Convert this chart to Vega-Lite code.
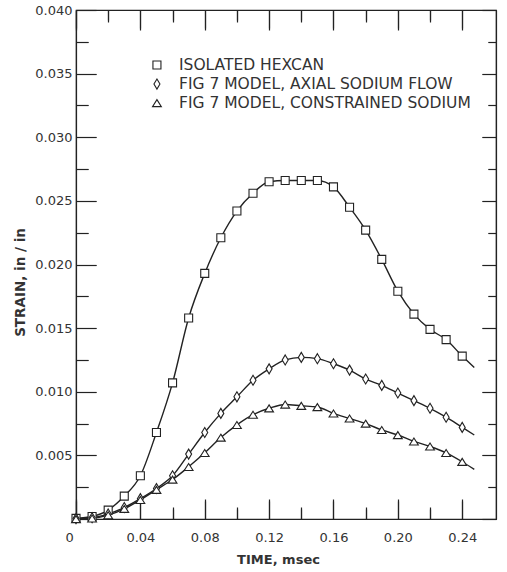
{
  "$schema": "https://vega.github.io/schema/vega-lite/v6.json",
  "width": 420,
  "height": 509,
  "autosize": {"type": "none"},
  "padding": {"left": 76, "top": 10, "right": 11, "bottom": 53},
  "background": "white",
  "config": {
    "view": {"stroke": "#222", "strokeWidth": 1.2}
  },
  "data": {
    "values": [
      {"series": "ISOLATED HEXCAN", "t": 0.0, "s": 0.00005, "m": 1},
      {"series": "ISOLATED HEXCAN", "t": 0.01, "s": 0.0002, "m": 1},
      {"series": "ISOLATED HEXCAN", "t": 0.02, "s": 0.0007, "m": 1},
      {"series": "ISOLATED HEXCAN", "t": 0.03, "s": 0.0018, "m": 1},
      {"series": "ISOLATED HEXCAN", "t": 0.04, "s": 0.0034, "m": 1},
      {"series": "ISOLATED HEXCAN", "t": 0.05, "s": 0.0068, "m": 1},
      {"series": "ISOLATED HEXCAN", "t": 0.06, "s": 0.0107, "m": 1},
      {"series": "ISOLATED HEXCAN", "t": 0.07, "s": 0.0158, "m": 1},
      {"series": "ISOLATED HEXCAN", "t": 0.08, "s": 0.0193, "m": 1},
      {"series": "ISOLATED HEXCAN", "t": 0.09, "s": 0.0221, "m": 1},
      {"series": "ISOLATED HEXCAN", "t": 0.10, "s": 0.0242, "m": 1},
      {"series": "ISOLATED HEXCAN", "t": 0.11, "s": 0.0256, "m": 1},
      {"series": "ISOLATED HEXCAN", "t": 0.12, "s": 0.0265, "m": 1},
      {"series": "ISOLATED HEXCAN", "t": 0.13, "s": 0.0266, "m": 1},
      {"series": "ISOLATED HEXCAN", "t": 0.14, "s": 0.0266, "m": 1},
      {"series": "ISOLATED HEXCAN", "t": 0.15, "s": 0.0266, "m": 1},
      {"series": "ISOLATED HEXCAN", "t": 0.16, "s": 0.0261, "m": 1},
      {"series": "ISOLATED HEXCAN", "t": 0.17, "s": 0.0245, "m": 1},
      {"series": "ISOLATED HEXCAN", "t": 0.18, "s": 0.0227, "m": 1},
      {"series": "ISOLATED HEXCAN", "t": 0.19, "s": 0.0204, "m": 1},
      {"series": "ISOLATED HEXCAN", "t": 0.20, "s": 0.0179, "m": 1},
      {"series": "ISOLATED HEXCAN", "t": 0.21, "s": 0.0161, "m": 1},
      {"series": "ISOLATED HEXCAN", "t": 0.22, "s": 0.0149, "m": 1},
      {"series": "ISOLATED HEXCAN", "t": 0.23, "s": 0.0141, "m": 1},
      {"series": "ISOLATED HEXCAN", "t": 0.24, "s": 0.0128, "m": 1},
      {"series": "ISOLATED HEXCAN", "t": 0.2475, "s": 0.0119, "m": 0},
      {"series": "FIG 7 MODEL, AXIAL SODIUM FLOW", "t": 0.0, "s": 0.00003, "m": 1},
      {"series": "FIG 7 MODEL, AXIAL SODIUM FLOW", "t": 0.01, "s": 0.0001, "m": 1},
      {"series": "FIG 7 MODEL, AXIAL SODIUM FLOW", "t": 0.02, "s": 0.0004, "m": 1},
      {"series": "FIG 7 MODEL, AXIAL SODIUM FLOW", "t": 0.03, "s": 0.0009, "m": 1},
      {"series": "FIG 7 MODEL, AXIAL SODIUM FLOW", "t": 0.04, "s": 0.0016, "m": 1},
      {"series": "FIG 7 MODEL, AXIAL SODIUM FLOW", "t": 0.05, "s": 0.0024, "m": 1},
      {"series": "FIG 7 MODEL, AXIAL SODIUM FLOW", "t": 0.06, "s": 0.0034, "m": 1},
      {"series": "FIG 7 MODEL, AXIAL SODIUM FLOW", "t": 0.07, "s": 0.0051, "m": 1},
      {"series": "FIG 7 MODEL, AXIAL SODIUM FLOW", "t": 0.08, "s": 0.0068, "m": 1},
      {"series": "FIG 7 MODEL, AXIAL SODIUM FLOW", "t": 0.09, "s": 0.0083, "m": 1},
      {"series": "FIG 7 MODEL, AXIAL SODIUM FLOW", "t": 0.10, "s": 0.0096, "m": 1},
      {"series": "FIG 7 MODEL, AXIAL SODIUM FLOW", "t": 0.11, "s": 0.0109, "m": 1},
      {"series": "FIG 7 MODEL, AXIAL SODIUM FLOW", "t": 0.12, "s": 0.0118, "m": 1},
      {"series": "FIG 7 MODEL, AXIAL SODIUM FLOW", "t": 0.13, "s": 0.0125, "m": 1},
      {"series": "FIG 7 MODEL, AXIAL SODIUM FLOW", "t": 0.14, "s": 0.0127, "m": 1},
      {"series": "FIG 7 MODEL, AXIAL SODIUM FLOW", "t": 0.15, "s": 0.0126, "m": 1},
      {"series": "FIG 7 MODEL, AXIAL SODIUM FLOW", "t": 0.16, "s": 0.0122, "m": 1},
      {"series": "FIG 7 MODEL, AXIAL SODIUM FLOW", "t": 0.17, "s": 0.0117, "m": 1},
      {"series": "FIG 7 MODEL, AXIAL SODIUM FLOW", "t": 0.18, "s": 0.0110, "m": 1},
      {"series": "FIG 7 MODEL, AXIAL SODIUM FLOW", "t": 0.19, "s": 0.0105, "m": 1},
      {"series": "FIG 7 MODEL, AXIAL SODIUM FLOW", "t": 0.20, "s": 0.0099, "m": 1},
      {"series": "FIG 7 MODEL, AXIAL SODIUM FLOW", "t": 0.21, "s": 0.0093, "m": 1},
      {"series": "FIG 7 MODEL, AXIAL SODIUM FLOW", "t": 0.22, "s": 0.0087, "m": 1},
      {"series": "FIG 7 MODEL, AXIAL SODIUM FLOW", "t": 0.23, "s": 0.0080, "m": 1},
      {"series": "FIG 7 MODEL, AXIAL SODIUM FLOW", "t": 0.24, "s": 0.0072, "m": 1},
      {"series": "FIG 7 MODEL, AXIAL SODIUM FLOW", "t": 0.2475, "s": 0.0066, "m": 0},
      {"series": "FIG 7 MODEL, CONSTRAINED SODIUM", "t": 0.0, "s": 0.0, "m": 1},
      {"series": "FIG 7 MODEL, CONSTRAINED SODIUM", "t": 0.01, "s": 0.00005, "m": 1},
      {"series": "FIG 7 MODEL, CONSTRAINED SODIUM", "t": 0.02, "s": 0.0003, "m": 1},
      {"series": "FIG 7 MODEL, CONSTRAINED SODIUM", "t": 0.03, "s": 0.0008, "m": 1},
      {"series": "FIG 7 MODEL, CONSTRAINED SODIUM", "t": 0.04, "s": 0.0015, "m": 1},
      {"series": "FIG 7 MODEL, CONSTRAINED SODIUM", "t": 0.05, "s": 0.0023, "m": 1},
      {"series": "FIG 7 MODEL, CONSTRAINED SODIUM", "t": 0.06, "s": 0.0031, "m": 1},
      {"series": "FIG 7 MODEL, CONSTRAINED SODIUM", "t": 0.07, "s": 0.0041, "m": 1},
      {"series": "FIG 7 MODEL, CONSTRAINED SODIUM", "t": 0.08, "s": 0.0052, "m": 1},
      {"series": "FIG 7 MODEL, CONSTRAINED SODIUM", "t": 0.09, "s": 0.0064, "m": 1},
      {"series": "FIG 7 MODEL, CONSTRAINED SODIUM", "t": 0.10, "s": 0.0074, "m": 1},
      {"series": "FIG 7 MODEL, CONSTRAINED SODIUM", "t": 0.11, "s": 0.0082, "m": 1},
      {"series": "FIG 7 MODEL, CONSTRAINED SODIUM", "t": 0.12, "s": 0.0087, "m": 1},
      {"series": "FIG 7 MODEL, CONSTRAINED SODIUM", "t": 0.13, "s": 0.0090, "m": 1},
      {"series": "FIG 7 MODEL, CONSTRAINED SODIUM", "t": 0.14, "s": 0.0089, "m": 1},
      {"series": "FIG 7 MODEL, CONSTRAINED SODIUM", "t": 0.15, "s": 0.0088, "m": 1},
      {"series": "FIG 7 MODEL, CONSTRAINED SODIUM", "t": 0.16, "s": 0.0083, "m": 1},
      {"series": "FIG 7 MODEL, CONSTRAINED SODIUM", "t": 0.17, "s": 0.0079, "m": 1},
      {"series": "FIG 7 MODEL, CONSTRAINED SODIUM", "t": 0.18, "s": 0.0075, "m": 1},
      {"series": "FIG 7 MODEL, CONSTRAINED SODIUM", "t": 0.19, "s": 0.0070, "m": 1},
      {"series": "FIG 7 MODEL, CONSTRAINED SODIUM", "t": 0.20, "s": 0.0066, "m": 1},
      {"series": "FIG 7 MODEL, CONSTRAINED SODIUM", "t": 0.21, "s": 0.0061, "m": 1},
      {"series": "FIG 7 MODEL, CONSTRAINED SODIUM", "t": 0.22, "s": 0.0057, "m": 1},
      {"series": "FIG 7 MODEL, CONSTRAINED SODIUM", "t": 0.23, "s": 0.0052, "m": 1},
      {"series": "FIG 7 MODEL, CONSTRAINED SODIUM", "t": 0.24, "s": 0.0045, "m": 1},
      {"series": "FIG 7 MODEL, CONSTRAINED SODIUM", "t": 0.2475, "s": 0.0039, "m": 0}
    ]
  },
  "layer": [
    {
      "mark": {"type": "line", "color": "#222", "strokeWidth": 1.4, "interpolate": "monotone"},
      "encoding": {
        "x": {
          "field": "t", "type": "quantitative",
          "scale": {"domain": [0, 0.261], "nice": false, "zero": false},
          "axis": {
            "orient": "bottom",
            "values": [0, 0.04, 0.08, 0.12, 0.16, 0.2, 0.24],
            "ticks": true, "tickSize": -20, "tickColor": "#222", "tickWidth": 1.2,
            "grid": true, "gridColor": "#222", "gridWidth": 1.2, "gridOpacity": 1, "gridDash": [20, 471, 18, 1000],
            "domain": true, "domainColor": "#222", "domainWidth": 1.2,
            "labelExpr": "datum.value == 0 ? '0' : format(datum.value, '.2f')",
            "labelOffset": {"condition": {"test": "datum.value == 0", "value": -11}, "value": 0},
            "labelPadding": 32,
            "labelFont": "DejaVu Sans", "labelFontSize": 13, "labelColor": "#333",
            "title": "TIME, msec",
            "titleFont": "DejaVu Sans", "titleFontSize": 13, "titleFontWeight": "bold", "titleColor": "#333",
            "titleX": 202, "titleY": 34, "titleBaseline": "top"
          }
        },
        "y": {
          "field": "s", "type": "quantitative",
          "scale": {"domain": [0, 0.04], "nice": false},
          "axis": {
            "orient": "left",
            "values": [0, 0.005, 0.01, 0.015, 0.02, 0.025, 0.03, 0.035, 0.04],
            "ticks": true, "tickSize": -20, "tickColor": "#222", "tickWidth": 1.2,
            "grid": true, "gridColor": "#222", "gridWidth": 1.2, "gridOpacity": 1, "gridDash": [20, 386, 14, 1000],
            "domain": true, "domainColor": "#222", "domainWidth": 1.2,
            "labelExpr": "datum.value == 0 ? '' : format(datum.value, '.3f')",
            "labelPadding": 24,
            "labelFont": "DejaVu Sans", "labelFontSize": 13, "labelColor": "#333",
            "title": "STRAIN, in / in",
            "titleFont": "DejaVu Sans", "titleFontSize": 13.5, "titleFontWeight": "bold", "titleColor": "#333",
            "titleY": 272, "titlePadding": 7
          }
        },
        "detail": {"field": "series"}
      }
    },
    {
      "mark": {"type": "point", "opacity": 0},
      "encoding": {
        "x": {
          "field": "t", "type": "quantitative",
          "axis": {
            "orient": "bottom",
            "values": [0.02, 0.06, 0.1, 0.14, 0.18, 0.22],
            "ticks": true, "tickSize": -10, "tickColor": "#222", "tickWidth": 1.2,
            "grid": true, "gridColor": "#222", "gridWidth": 1.2, "gridOpacity": 1, "gridDash": [10, 487, 12, 1000],
            "labels": false, "title": null, "domain": false
          }
        },
        "y": {
          "field": "s", "type": "quantitative",
          "axis": {
            "orient": "left",
            "values": [0.0025, 0.0075, 0.0125, 0.0175, 0.0225, 0.0275, 0.0325, 0.0375],
            "ticks": true, "tickSize": -12, "tickColor": "#222", "tickWidth": 1.2,
            "grid": true, "gridColor": "#222", "gridWidth": 1.2, "gridOpacity": 1, "gridDash": [12, 400, 8, 1000],
            "labels": false, "title": null, "domain": false
          }
        }
      }
    },
    {
      "mark": {"type": "point", "opacity": 0},
      "encoding": {
        "x": {
          "field": "t", "type": "quantitative",
          "axis": {
            "orient": "top",
            "values": [0.02, 0.06, 0.1, 0.14, 0.18, 0.22],
            "ticks": true, "tickSize": -12, "tickColor": "#222", "tickWidth": 1.2,
            "labels": false, "title": null, "domain": false, "grid": false
          }
        },
        "y": {
          "field": "s", "type": "quantitative",
          "axis": {
            "orient": "right",
            "values": [0.0025, 0.0075, 0.0125, 0.0175, 0.0225, 0.0275, 0.0325, 0.0375],
            "ticks": true, "tickSize": -8, "tickColor": "#222", "tickWidth": 1.2,
            "labels": false, "title": null, "domain": false, "grid": false
          }
        }
      }
    },
    {
      "transform": [{"filter": "datum.m == 1"}],
      "mark": {"type": "point", "filled": true, "fill": "white", "stroke": "#222", "strokeWidth": 1.1, "opacity": 1, "size": 64},
      "encoding": {
        "x": {
          "field": "t", "type": "quantitative",
          "axis": {
            "orient": "top",
            "values": [0, 0.04, 0.08, 0.12, 0.16, 0.2, 0.24],
            "ticks": true, "tickSize": -18, "tickColor": "#222", "tickWidth": 1.2,
            "labels": false, "title": null, "domainColor": "#222", "domainWidth": 1.2, "grid": false
          }
        },
        "y": {
          "field": "s", "type": "quantitative",
          "axis": {
            "orient": "right",
            "values": [0, 0.005, 0.01, 0.015, 0.02, 0.025, 0.03, 0.035, 0.04],
            "ticks": true, "tickSize": -14, "tickColor": "#222", "tickWidth": 1.2,
            "labels": false, "title": null, "domainColor": "#222", "domainWidth": 1.2, "grid": false
          }
        },
        "shape": {
          "field": "series", "type": "nominal",
          "scale": {
            "domain": ["ISOLATED HEXCAN", "FIG 7 MODEL, AXIAL SODIUM FLOW", "FIG 7 MODEL, CONSTRAINED SODIUM"],
            "range": ["square", "M0,-1.25L0.75,0L0,1.25L-0.75,0Z", "M0,-0.85L1.1,0.9L-1.1,0.9Z"]
          },
          "legend": null
        }
      }
    },
    {
      "data": {"values": [{"series": "ISOLATED HEXCAN"}]},
      "layer": [
        {
          "mark": {"type": "point", "filled": true, "fill": "white", "stroke": "#222", "strokeWidth": 1.1, "opacity": 1, "size": 64},
          "encoding": {
            "x": {"datum": 0.0503, "type": "quantitative", "axis": null},
            "y": {"datum": 0.03568, "type": "quantitative", "axis": null},
            "shape": {"field": "series", "type": "nominal", "legend": null}
          }
        },
        {
          "mark": {"type": "text", "align": "left", "baseline": "middle", "font": "DejaVu Sans", "fontSize": 15.5, "color": "#333"},
          "encoding": {
            "x": {"datum": 0.064, "type": "quantitative", "axis": null},
            "y": {"datum": 0.03568, "type": "quantitative", "axis": null},
            "text": {"field": "series"}
          }
        }
      ]
    },
    {
      "data": {"values": [{"series": "FIG 7 MODEL, AXIAL SODIUM FLOW"}]},
      "layer": [
        {
          "mark": {"type": "point", "filled": true, "fill": "white", "stroke": "#222", "strokeWidth": 1.1, "opacity": 1, "size": 64},
          "encoding": {
            "x": {"datum": 0.0503, "type": "quantitative", "axis": null},
            "y": {"datum": 0.03418, "type": "quantitative", "axis": null},
            "shape": {"field": "series", "type": "nominal", "legend": null}
          }
        },
        {
          "mark": {"type": "text", "align": "left", "baseline": "middle", "font": "DejaVu Sans", "fontSize": 15.5, "color": "#333"},
          "encoding": {
            "x": {"datum": 0.064, "type": "quantitative", "axis": null},
            "y": {"datum": 0.03418, "type": "quantitative", "axis": null},
            "text": {"field": "series"}
          }
        }
      ]
    },
    {
      "data": {"values": [{"series": "FIG 7 MODEL, CONSTRAINED SODIUM"}]},
      "layer": [
        {
          "mark": {"type": "point", "filled": true, "fill": "white", "stroke": "#222", "strokeWidth": 1.1, "opacity": 1, "size": 64},
          "encoding": {
            "x": {"datum": 0.0503, "type": "quantitative", "axis": null},
            "y": {"datum": 0.03269, "type": "quantitative", "axis": null},
            "shape": {"field": "series", "type": "nominal", "legend": null}
          }
        },
        {
          "mark": {"type": "text", "align": "left", "baseline": "middle", "font": "DejaVu Sans", "fontSize": 15.5, "color": "#333"},
          "encoding": {
            "x": {"datum": 0.064, "type": "quantitative", "axis": null},
            "y": {"datum": 0.03269, "type": "quantitative", "axis": null},
            "text": {"field": "series"}
          }
        }
      ]
    }
  ],
  "resolve": {"axis": {"x": "independent", "y": "independent"}}
}
